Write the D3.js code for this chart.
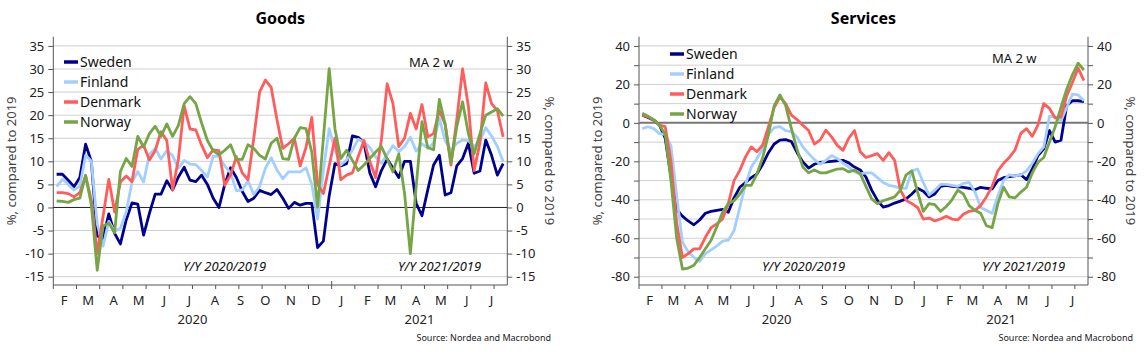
<!DOCTYPE html>
<html>
<head>
<meta charset="utf-8">
<script src="https://cdn.jsdelivr.net/npm/d3@7"></script>
<style>
  body { margin: 0; background: #fff; }
  svg { display: block; font-family: "Noto Sans", sans-serif; }
</style>
</head>
<body>
<svg id="chart" width="1144" height="354"></svg>
<script>
// weekly observations, first one on 6 Feb 2020
const firstWeek = new Date(2020, 1, 6);
const weeks = d3.range(78).map(i => d3.timeDay.offset(firstWeek, 7 * i));

const countries = ['Sweden', 'Finland', 'Denmark', 'Norway'];
const colors = ['#00008f', '#a3cfff', '#ff5c5c', '#76a545'];
const monthLabels = ['F','M','A','M','J','J','A','S','O','N','D','J','F','M','A','M','J','J'];
const yearLabels = ['2020', '2021'];

// Goods, % y/y vs 2019
const goodsSweden = [7.2,7.2,5.9,4.5,6.5,13.7,9.9,-6.2,-6.8,-1.4,-5.6,-7.9,-2.7,1.0,0.7,-6.0,-1.3,2.9,2.9,5.8,
  3.8,6.6,8.7,5.9,5.6,7.0,5.0,2.0,0.0,5.0,8.6,6.5,3.5,1.3,2.0,3.7,3.2,2.8,3.9,2.0,
  -0.2,1.1,0.5,0.9,0.9,-8.7,-7.3,2.5,9.5,9.0,9.5,15.5,15.2,14.0,7.5,4.5,8.0,10.5,8.5,6.5,
  10.0,10.0,0.9,-1.8,3.8,9.2,11.3,2.7,3.2,9.0,10.6,13.9,7.4,7.9,14.6,11.3,7.0,9.5];
const goodsFinland = [4.5,6.1,5.0,3.8,4.6,11.3,10.0,-3.5,-8.4,-3.0,-5.2,-4.5,-1.0,5.5,7.8,5.5,11.5,12.8,10.5,12.3,
  11.2,8.5,10.2,9.4,9.3,8.0,6.6,11.1,11.1,9.0,7.5,3.6,3.8,5.8,2.8,4.5,8.5,10.8,8.1,6.2,
  7.7,7.7,7.7,8.6,5.0,-2.5,8.0,17.1,12.4,9.2,10.3,12.4,14.8,14.2,13.0,11.0,9.6,11.5,13.4,12.1,
  13.2,15.2,12.2,13.8,12.8,14.0,19.3,14.5,12.4,13.9,14.6,14.5,13.2,14.5,17.3,15.5,13.2,9.9];
const goodsDenmark = [3.2,3.2,3.0,2.3,3.2,6.8,1.5,-10.0,-2.0,6.1,-1.0,5.5,6.8,5.6,12.6,13.5,10.3,12.3,16.4,14.5,
  3.8,10.5,22.0,17.0,16.8,13.5,10.8,12.5,12.3,4.8,7.0,11.0,7.5,6.0,15.0,25.0,27.6,26.0,19.0,12.8,
  13.8,15.0,9.0,13.0,19.5,5.0,3.0,9.0,15.0,6.0,7.0,7.5,11.0,14.5,10.0,6.5,14.6,26.8,22.5,13.2,
  15.0,20.4,17.0,22.3,15.3,16.0,21.0,18.0,9.2,19.0,30.0,22.0,8.0,14.0,27.0,22.5,21.0,15.3];
const goodsNorway = [1.4,1.3,1.1,1.7,2.0,7.0,0.5,-13.6,-4.0,-3.4,-5.5,7.8,10.6,8.9,15.4,13.1,16.0,17.6,15.4,18.1,
  15.4,17.8,22.5,24.0,22.5,18.3,14.5,12.3,11.4,12.4,13.6,10.4,10.4,13.6,12.8,11.3,10.5,13.9,15.0,10.6,
  10.4,15.0,17.3,17.1,12.0,0.1,15.0,30.1,17.0,10.6,12.4,10.2,8.0,9.2,10.6,12.0,13.2,10.5,7.7,11.6,
  3.0,-10.0,4.5,18.6,13.0,12.5,23.4,18.0,9.7,17.5,22.9,16.0,11.6,16.0,20.0,20.7,21.4,19.8];

// Services, % y/y vs 2019
const servSweden = [4,2.8,1.4,-1.2,-8,-28,-45,-48.5,-51,-53,-50.5,-47,-46,-45.5,-45,-46.5,-39,-33.5,-31,-28.5,
  -26.5,-21.5,-15.5,-11,-9,-8.7,-9.7,-15.5,-20.3,-23.5,-21.5,-20.5,-20.3,-20,-19.7,-19.5,-20.8,-23,-24.5,-28.2,
  -35,-40.3,-43.8,-43,-41.7,-40.7,-39.5,-37,-34,-35.5,-38.5,-37,-33,-32.5,-33,-33.3,-33.5,-34,-34.8,-33.5,
  -34,-34.3,-30,-28.5,-28,-27.5,-27,-29.5,-24,-17,-13.5,-4,-10,-9,9,11.5,11.5,11];
const servFinland = [-3,-2,-3,-5.6,-6,-12,-38,-62,-67,-70,-72,-68,-66,-64,-61.5,-61,-56,-44,-32,-23,
  -18.5,-13.5,-6,-2.5,-2,-4,-4.5,-7.5,-12.5,-16,-19,-21.5,-19.5,-17,-18.5,-21,-23,-25.5,-26.5,-26,
  -26,-28.5,-31,-32.5,-33,-34,-34,-25,-24,-31,-37.5,-35,-32,-32,-32.5,-33,-31.5,-31,-36,-44,
  -45.5,-47,-38,-30,-27,-27.5,-27,-25,-21,-16,-12.5,3.5,3,1,8,15,14.5,11.5];
const servDenmark = [4,3.1,1.4,-1.2,-2,-20,-52,-70,-68,-65.5,-65.5,-59.5,-54.5,-52.5,-50,-42,-30,-24.7,-17.7,-12.5,
  -15,-11.5,-2,8,13.5,10,4,1.7,-1.2,-4,-11,-9,-3.8,-7.3,-11.7,-14.3,-8,-4,-15,-18,
  -17,-16,-19.5,-15.5,-19.5,-35,-40.3,-42,-44,-50,-49.5,-51,-50,-48.5,-50,-50.5,-47.5,-46,-45.5,-43,
  -38.5,-33,-25,-21,-18,-14,-5.5,-3,-7,-1,10,7.5,2.5,3,14,21,28.5,22];
const servNorway = [5,3.5,1.7,-1.2,-6,-30,-60,-76,-75.5,-74,-70,-65.5,-61,-54,-46.5,-42,-40.5,-37,-32.5,-32.5,
  -26.5,-18,-6,9,14.5,9,-3,-14,-23,-26,-24.5,-26,-26,-25,-24,-23.8,-25.5,-24.5,-26.5,-33,
  -39.5,-42,-40.5,-39.5,-38.5,-35,-27,-25,-36,-46,-42,-42.5,-46,-43.5,-40,-35,-37,-43,-45.5,-47,
  -53.5,-54.5,-42,-33.5,-38.5,-39,-36,-33.5,-26,-20.5,-18,-10,-2,8,17.5,25,31,27.5];

const svg = d3.select('#chart');
const plotTop = 36.7, plotBottom = 285;
const domainX = [new Date(2020, 1, 2), new Date(2021, 7, 3)];
const yearStart = new Date(2021, 0, 3);

function drawPanel(p) {
  const x = d3.scaleTime().domain(domainX).range([p.left, p.right]);
  const y = d3.scaleLinear().domain(p.yDomain).range([plotBottom, plotTop]);
  const g = svg.append('g');

  // grid
  g.selectAll('line.grid')
    .data(p.grid.filter(v => v !== 0))
    .join('line')
    .attr('x1', p.left).attr('x2', p.right)
    .attr('y1', d => y(d)).attr('y2', d => y(d))
    .attr('stroke', '#cfcfcf').attr('stroke-width', 1);

  // left and right axes
  const fmt = d => (p.labels.includes(d) ? d : '');
  const left = g.append('g').attr('transform', `translate(${p.left},0)`)
    .call(d3.axisLeft(y).tickValues(p.grid).tickFormat(fmt).tickSize(5).tickPadding(4));
  const right = g.append('g').attr('transform', `translate(${p.right},0)`)
    .call(d3.axisRight(y).tickValues(p.grid).tickFormat(fmt).tickSize(5).tickPadding(4));
  [left, right].forEach(a => {
    a.select('.domain').attr('d', `M0,${plotTop}V${plotBottom}`).attr('stroke', '#555');
    a.selectAll('.tick line').attr('stroke', '#555');
    a.selectAll('text').attr('font-size', 13).attr('fill', '#222')
      .attr('font-family', '"Noto Sans", sans-serif');
  });

  // zero line
  g.append('line')
    .attr('x1', p.left).attr('x2', p.right)
    .attr('y1', y(0)).attr('y2', y(0))
    .attr('stroke', p.zeroColor).attr('stroke-width', p.zeroWidth);

  // bottom axis, ticks every 4 weeks
  const tickDates = d3.range(-13, 9).map(k => d3.timeDay.offset(yearStart, 28 * k))
    .filter(d => d >= domainX[0] && d <= domainX[1]);
  g.append('line')
    .attr('x1', p.left).attr('x2', p.right)
    .attr('y1', plotBottom).attr('y2', plotBottom)
    .attr('stroke', '#555');
  g.selectAll('line.xt')
    .data(tickDates)
    .join('line')
    .attr('x1', d => x(d)).attr('x2', d => x(d))
    .attr('y1', d => (+d === +yearStart ? plotBottom - 4 : plotBottom))
    .attr('y2', plotBottom + 4)
    .attr('stroke', '#555');

  const mids = d3.timeMonth.range(new Date(2020, 1, 1), new Date(2021, 6, 2))
    .map(d => d3.timeDay.offset(d, 14));
  g.selectAll('text.month')
    .data(mids)
    .join('text')
    .attr('x', d => x(d)).attr('y', 305)
    .attr('text-anchor', 'middle').attr('font-size', 13).attr('fill', '#222')
    .text((d, i) => monthLabels[i]);
  const yearMid = [
    (p.left + x(yearStart)) / 2,
    (x(yearStart) + p.right) / 2
  ];
  g.selectAll('text.year')
    .data(yearLabels)
    .join('text')
    .attr('x', (d, i) => yearMid[i]).attr('y', 324)
    .attr('text-anchor', 'middle').attr('font-size', 13).attr('fill', '#222')
    .text(d => d);

  // lines
  const line = d3.line()
    .x((d, i) => x(weeks[i]))
    .y(d => y(d));
  g.selectAll('path.series')
    .data(p.series)
    .join('path')
    .attr('d', d => line(d))
    .attr('fill', 'none')
    .attr('stroke', (d, i) => colors[i])
    .attr('stroke-width', 2.8)
    .attr('stroke-linejoin', 'round');

  // titles
  g.append('text')
    .attr('x', (p.left + p.right) / 2).attr('y', 24)
    .attr('text-anchor', 'middle').attr('font-size', 16).attr('font-weight', 'bold')
    .text(p.title);
  g.append('text')
    .attr('transform', `translate(${p.left - 37},${(plotTop + plotBottom) / 2}) rotate(-90)`)
    .attr('text-anchor', 'middle').attr('font-size', 13).attr('fill', '#444')
    .text('%, compared to 2019');
  g.append('text')
    .attr('transform', `translate(${p.right + 38},${(plotTop + plotBottom) / 2}) rotate(90)`)
    .attr('text-anchor', 'middle').attr('font-size', 13).attr('fill', '#444')
    .text('%, compared to 2019');

  // legend
  const leg = g.selectAll('g.leg')
    .data(countries)
    .join('g')
    .attr('transform', (d, i) => `translate(${p.legX},${p.legY + i * 20})`);
  leg.append('line')
    .attr('x1', 0).attr('x2', 14)
    .attr('stroke', (d, i) => colors[i]).attr('stroke-width', 3.5);
  leg.append('text')
    .attr('x', 16).attr('dy', '0.35em')
    .attr('font-size', 14).attr('fill', '#111')
    .text(d => d);

  g.append('text')
    .attr('x', p.maX).attr('y', p.maY).attr('dy', '0.35em')
    .attr('font-size', 13).attr('fill', '#111')
    .text('MA 2 w');
  g.append('text')
    .attr('x', p.yy1X).attr('y', 266).attr('dy', '0.35em')
    .attr('font-size', 13).attr('font-style', 'italic').attr('fill', '#111')
    .text('Y/Y 2020/2019');
  g.append('text')
    .attr('x', p.yy2X).attr('y', 266).attr('dy', '0.35em')
    .attr('font-size', 13).attr('font-style', 'italic').attr('fill', '#111')
    .text('Y/Y 2021/2019');

  g.append('text')
    .attr('x', p.srcX).attr('y', 341)
    .attr('text-anchor', 'end').attr('font-size', 9).attr('fill', '#222')
    .text('Source: Nordea and Macrobond');
}

drawPanel({
  title: 'Goods', left: 53.3, right: 507.3, yDomain: [-16.8, 37],
  grid: d3.range(-15, 36, 5), labels: d3.range(-15, 36, 5),
  zeroColor: '#222', zeroWidth: 1,
  series: [goodsSweden, goodsFinland, goodsDenmark, goodsNorway],
  legX: 64, legY: 62, maX: 409, maY: 62, yy1X: 183, yy2X: 398, srcX: 551
});
drawPanel({
  title: 'Services', left: 639, right: 1088, yDomain: [-84.3, 44.8],
  grid: d3.range(-80, 41, 10), labels: d3.range(-80, 41, 20),
  zeroColor: '#777', zeroWidth: 2,
  series: [servSweden, servFinland, servDenmark, servNorway],
  legX: 670, legY: 54, maX: 992, maY: 58, yy1X: 762, yy2X: 982, srcX: 1133
});
</script>
</body>
</html>
